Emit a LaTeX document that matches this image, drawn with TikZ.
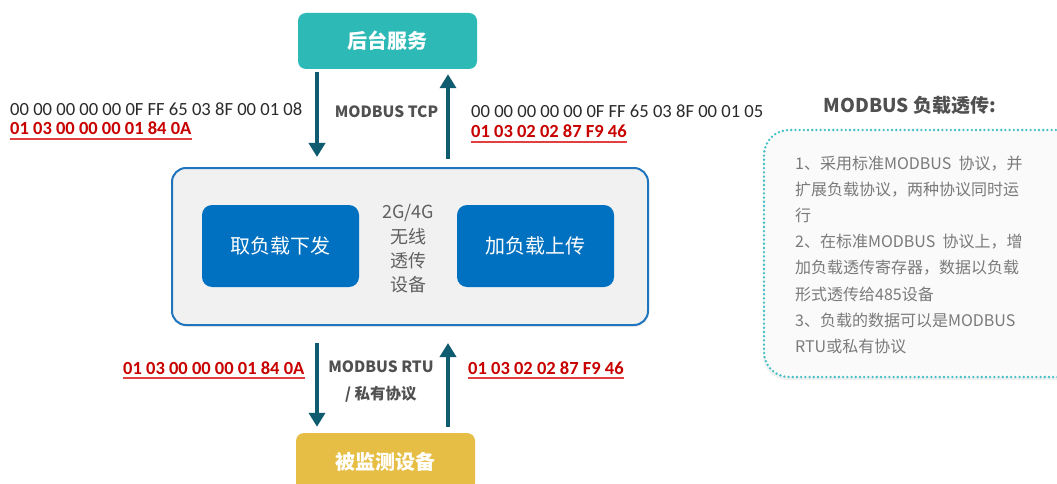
\documentclass[tikz,border=0pt]{standalone}
\usepackage{fontspec}
\setmainfont{Noto Sans CJK SC}
\newfontfamily\cjk{Noto Sans CJK SC}
\newfontfamily\hexf{Carlito}
\usetikzlibrary{arrows.meta,shadows}
\definecolor{teal}{HTML}{2DB9B5}
\definecolor{arrowc}{HTML}{0F5B70}
\definecolor{gold}{HTML}{E7BE45}
\definecolor{innerblue}{HTML}{0070C0}
\definecolor{mainborder}{HTML}{1F75BE}
\definecolor{mainfill}{HTML}{F1F1F1}
\definecolor{hexred}{HTML}{C80000}
\definecolor{ulred}{HTML}{E04040}
\definecolor{hexblack}{HTML}{2B2B2B}
\definecolor{labelgray}{HTML}{505050}
\definecolor{midgray}{HTML}{606060}
\definecolor{dotteal}{HTML}{3FC0C5}
\definecolor{panelfill}{HTML}{FAFAFA}
\definecolor{paneltext}{HTML}{7A7A7A}
\tikzset{
  flow/.style={draw=arrowc, line width=4pt, -{Triangle[width=16pt,length=14pt]}},
  topbox/.style={fill=teal, rounded corners=8pt, minimum width=179pt, minimum height=56pt, inner sep=0pt,
     text=white, font=\cjk\bfseries\fontsize{20}{24}\selectfont},
  botbox/.style={fill=gold, rounded corners=8pt, minimum width=179pt, minimum height=58pt, inner sep=0pt,
     text=white, font=\cjk\bfseries\fontsize{20}{24}\selectfont},
  innerbox/.style={fill=innerblue, rounded corners=10pt, minimum width=157pt, minimum height=82pt, inner sep=0pt,
     text=white, font=\cjk\fontsize{20}{24}\selectfont},
  hexblk/.style={anchor=base west, inner sep=0pt, text=hexblack, font=\hexf\fontsize{18.6}{22}\selectfont},
  hexr/.style={anchor=base west, inner sep=0pt, text=hexred, font=\hexf\bfseries\fontsize{18.5}{22}\selectfont},
  ul/.style={draw=ulred, line width=1.3pt},
  proto/.style={inner sep=0pt, text=labelgray, align=center, font=\cjk\bfseries\fontsize{15.5}{27}\selectfont},
  ptext/.style={anchor=base west, inner sep=0pt, text=paneltext, font=\cjk\fontsize{16}{20}\selectfont},
}
\begin{document}
\begin{tikzpicture}[x=1pt,y=-1pt]
\useasboundingbox (0,0) rectangle (1057,484);
\clip (0,0) rectangle (1057,484);
\fill[white] (0,0) rectangle (1057,484);

% boxes
\node[topbox] (tb) at (387.5,41) {后台服务};
\node[draw=mainborder, line width=2pt, fill=mainfill, rounded corners=14pt,
      minimum width=476pt, minimum height=157pt, inner sep=0pt,
      drop shadow={shadow xshift=1pt, shadow yshift=-2pt, opacity=0.12}] (mb) at (410,246.5) {};
\node[innerbox] (ib1) at (280.5,246) {取负载下发};
\node[innerbox] (ib2) at (535.5,246) {加负载上传};
\node[inner sep=0pt, text=midgray, align=center, font=\cjk\fontsize{18}{24.3}\selectfont] (mid) at (408,249) {2G/4G\\无线\\透传\\设备};
\node[botbox] (bb) at (385.5,462) {被监测设备};

% arrow columns
\coordinate (c1) at (317,0);
\coordinate (c2) at (448,0);
\draw[flow, shorten <=3pt, shorten >=10pt] (tb.south -| c1) -- (mb.north -| c1);
\draw[flow, shorten <=8pt, shorten >=5pt] (mb.north -| c2) -- (tb.south -| c2);
\draw[flow, shorten <=17pt, shorten >=6pt] (mb.south -| c1) -- (bb.north -| c1);
\draw[flow, shorten <=6pt, shorten >=17pt] (bb.north -| c2) -- (mb.south -| c2);

% protocol labels
\node[proto] (tcp) at (386.5,112) {MODBUS TCP};
\node[proto] (rtu) at (381,381.5) {MODBUS RTU\\/ 私有协议};

% hex strings
\node[hexblk] (h1) at (10,116) {00 00 00 00 00 0F FF 65 03 8F 00 01 08};
\node[hexr] (h2) at (10,135) {01 03 00 00 00 01 84 0A};
\draw[ul] ([yshift=-4pt]h2.base west) -- ([yshift=-4pt]h2.base east);
\node[hexblk] (h3) at (471,118) {00 00 00 00 00 0F FF 65 03 8F 00 01 05};
\node[hexr] (h4) at (471,138) {01 03 02 02 87 F9 46};
\draw[ul] ([yshift=-4pt]h4.base west) -- ([yshift=-4pt]h4.base east);
\node[hexr] (h5) at (123,374) {01 03 00 00 00 01 84 0A};
\draw[ul] ([yshift=-4pt]h5.base west) -- ([yshift=-4pt]h5.base east);
\node[hexr] (h6) at (468,374) {01 03 02 02 87 F9 46};
\draw[ul] ([yshift=-4pt]h6.base west) -- ([yshift=-4pt]h6.base east);

% right panel
\node[text=labelgray, inner sep=0pt, font=\cjk\bfseries\fontsize{19}{22}\selectfont] (ttl) at (910,105) {MODBUS 负载透传:};
\node[draw=dotteal, line width=2.6pt, dash pattern=on 0pt off 4.2pt, line cap=round,
      fill=panelfill, rounded corners=25pt, minimum width=321pt, minimum height=247pt, inner sep=0pt,
      drop shadow={shadow xshift=-1pt, shadow yshift=-3pt, opacity=0.12}] (pnl) at (924.5,253.5) {};
\node[ptext] (p1) at (795,169) {1、采用标准MODBUS\ \ 协议，并};
\node[ptext] (p2) at (795,195.2) {扩展负载协议，两种协议同时运};
\node[ptext] (p3) at (795,221.4) {行};
\node[ptext] (p4) at (795,247.6) {2、在标准MODBUS\ \ 协议上，增};
\node[ptext] (p5) at (795,273.8) {加负载透传寄存器，数据以负载};
\node[ptext] (p6) at (795,300) {形式透传给485设备};
\node[ptext] (p7) at (795,326.2) {3、负载的数据可以是MODBUS};
\node[ptext] (p8) at (795,352.4) {RTU或私有协议};
\end{tikzpicture}
\end{document}
